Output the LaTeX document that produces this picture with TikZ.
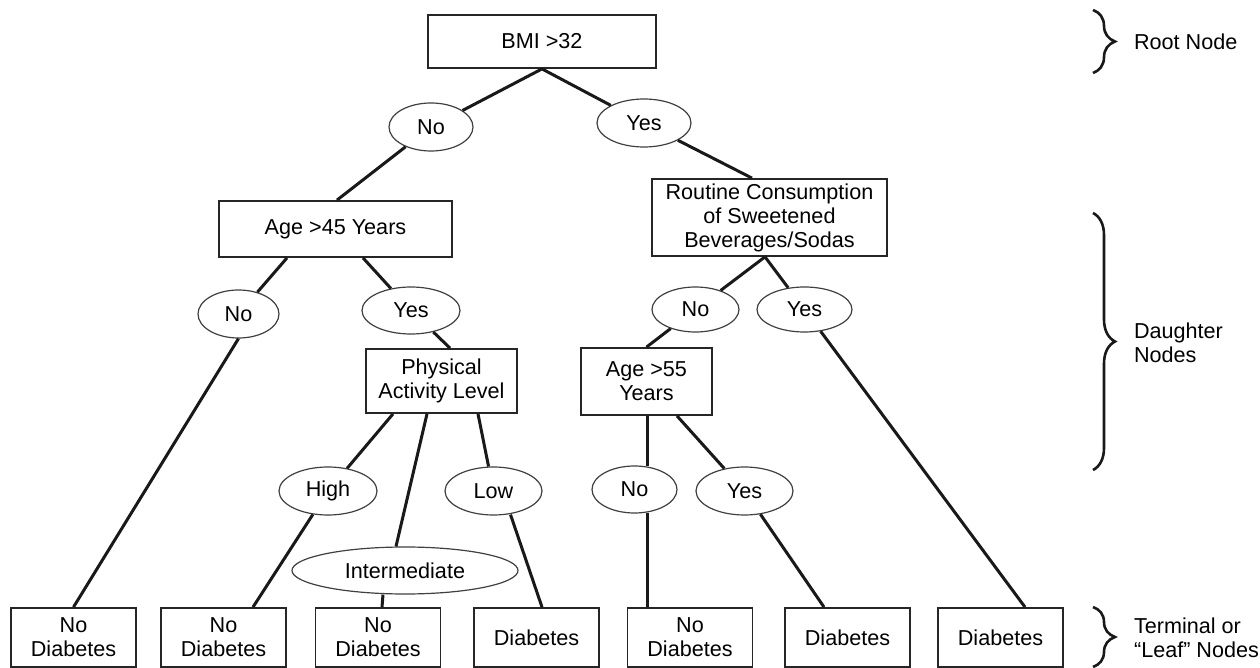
\documentclass[tikz,border=0pt]{standalone}
\usepackage{fontspec}
\setmainfont{Liberation Sans}
\usetikzlibrary{positioning,shapes.geometric,calc,decorations.pathreplacing}

\begin{document}
\begin{tikzpicture}[
    x=0.5pt, y=-0.5pt,
    font=\fontsize{10.8}{12}\selectfont,
    box/.style={draw=black!85, line width=0.9pt, fill=white, align=center, inner sep=0pt},
    leaf/.style={box, minimum width=62.5pt, minimum height=29.5pt},
    oval/.style={ellipse, draw=black!75, line width=0.6pt, fill=white, inner sep=0pt,
                 minimum width=#1, minimum height=24pt},
    link/.style={line width=1.5pt, color=black!90},
    curly/.style={decorate, decoration={brace, amplitude=11pt}, line width=1.3pt, color=black!90},
    note/.style={align=left, anchor=west}
]
\useasboundingbox (0,0) rectangle (1260,668);

%% Root split
\node[box, minimum width=114pt, minimum height=26.5pt] (root) at (542,41.5) {BMI >32};
\node[oval=42pt] (noA) at (431,127) {No};
\node[oval=47pt] (yesA) at (644,123) {Yes};

%% Daughter nodes, left
\node[box, minimum width=116.5pt, minimum height=28pt] (ageA) at (335.5,229) {Age >45 Years};
\node[oval=40.5pt] (noB) at (238.5,314) {No};
\node[oval=49pt, minimum height=23.5pt] (yesB) at (411,310.5) {Yes};
\node[box, minimum width=75.5pt, minimum height=32pt] (pal) at (441.5,381) {Physical\\Activity Level};
\node[oval=49pt] (high) at (328,491) {High};
\node[oval=48.5pt] (low) at (493.5,491) {Low};
\node[oval=113pt, minimum height=23.5pt] (inter) at (405,570.5) {Intermediate};

%% Daughter nodes, right
\node[box, minimum width=117.5pt, minimum height=38.5pt] (soda) at (769.5,217.5) {Routine Consumption\\of Sweetened\\Beverages/Sodas};
\node[oval=43.5pt, minimum height=22.5pt] (noC) at (695.5,309.5) {No};
\node[oval=47.5pt, minimum height=22.5pt] (yesC) at (804.5,309.5) {Yes};
\node[box, minimum width=65.5pt, minimum height=33.5pt] (ageB) at (646.5,381.5) {Age >55\\Years};
\node[oval=42.5pt, minimum height=23.5pt] (noD) at (634.5,489.5) {No};
\node[oval=48.5pt] (yesD) at (744.5,491) {Yes};

%% Terminal nodes
\node[leaf] (leaf1) at (73.5,637.5) {No\\Diabetes};
\node[leaf] (leaf2) at (223.5,637.5) {No\\Diabetes};
\node[leaf] (leaf3) at (378,637.5) {No\\Diabetes};
\node[leaf] (leaf4) at (536.5,637.5) {Diabetes};
\node[leaf] (leaf5) at (690,637.5) {No\\Diabetes};
\node[leaf] (leaf6) at (847.5,637.5) {Diabetes};
\node[leaf] (leaf7) at (1000.5,637.5) {Diabetes};

%% Branches
\draw[link] (root.south) -- (noA);
\draw[link] (root.south) -- (yesA);
\draw[link] (noA) -- ($(ageA.north)+(1.5,0)$);
\draw[link] (yesA) -- ($(soda.north)+(-17.5,0)$);
\draw[link] ($(ageA.south)+(-48.5,0)$) -- (noB);
\draw[link] ($(ageA.south)+(27.5,0)$) -- (yesB);
\draw[link] (noB.south) -- (leaf1.north);
\draw[link] (yesB) -- ($(pal.north)+(8.5,0)$);
\draw[link] ($(pal.south)+(-48.5,0)$) -- (high);
\draw[link] ($(pal.south)+(-14.5,0)$) -- ($(inter.north)+(-9,0)$);
\draw[link] ($(pal.south)+(36.5,0)$) -- (low);
\draw[link] (high) -- ($(leaf2.north)+(29.5,0)$);
\draw[link] ($(inter.south)+(-22,0)$) -- ($(leaf3.north)+(4,0)$);
\draw[link] ($(low.south)+(17,-1)$) -- ($(leaf4.north)+(5.5,0)$);
\draw[link] ($(soda.south)+(-4.5,0)$) -- (noC);
\draw[link] ($(soda.south)+(-4.5,0)$) -- (yesC);
\draw[link] (noC) -- (ageB.north);
\draw[link] (yesC) -- ($(leaf7.north)+(24.5,0)$);
\draw[link] ($(ageB.south)+(0.5,0)$) -- ($(noD.north)+(12.5,1)$);
\draw[link] ($(noD.south)+(12.5,-1)$) -- ($(leaf5.north)+(-43,0)$);
\draw[link] ($(ageB.south)+(30.5,0)$) -- (yesD);
\draw[link] (yesD) -- ($(leaf6.north)+(-23.5,0)$);

%% Level braces
\draw[curly] (1093,10) -- (1093,73);
\draw[curly] (1093,213) -- (1093,470);
\draw[curly] (1093,607) -- (1093,667);
\node[note] (rootlbl) at (1127,41.5) {Root Node};
\node[note] (daughterlbl) at (1127,343) {Daughter\\Nodes};
\node[note] (leaflbl) at (1127,638) {Terminal or\\“Leaf” Nodes};

\end{tikzpicture}
\end{document}
